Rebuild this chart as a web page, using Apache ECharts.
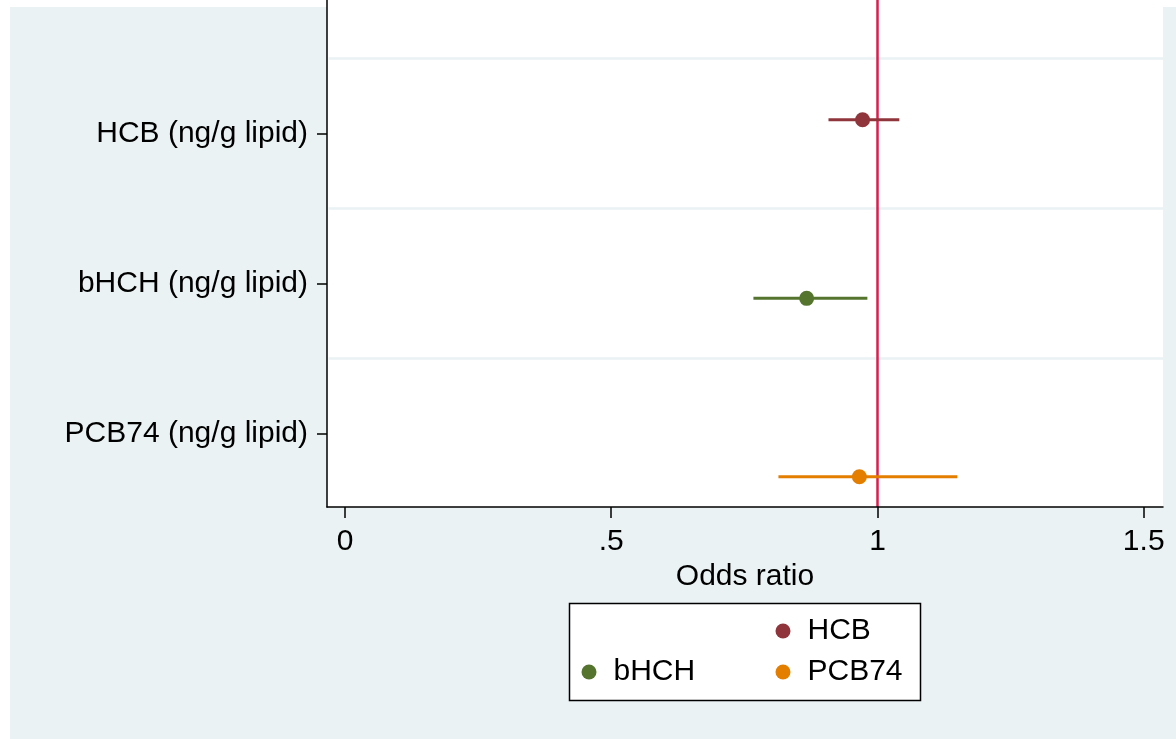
<!DOCTYPE html>
<html>
<head>
<meta charset="utf-8">
<script src="https://cdn.jsdelivr.net/npm/echarts@6/dist/echarts.min.js"></script>
<style>
  html, body { margin: 0; padding: 0; background: #fff; }
  #chart { width: 1176px; height: 739px; }
</style>
</head>
<body>
<div id="chart"></div>
<script>
// data
var names = ['HCB', 'bHCH', 'PCB74']
var rowLabels = ['HCB (ng/g lipid)', 'bHCH (ng/g lipid)', 'PCB74 (ng/g lipid)']
var oddsRatio = [0.972, 0.867, 0.966]
var ciLow = [0.908, 0.767, 0.814]
var ciHigh = [1.041, 0.981, 1.150]
// vertical position of each estimate (rows are 1, 2, 3 from the top)
var rowPos = [0.909, 2.1, 3.289]
var rowTicks = [1, 2, 3]
var rowDividers = [0.5, 1.5, 2.5]
var xTicks = [0, 0.5, 1, 1.5]
var xTickLabels = ['0', '.5', '1', '1.5']
var refLine = 1

var xMin = -0.0338
var xMax = 1.5362
var colors = ['#90353B', '#55752F', '#E37E00']
var font = 'Liberation Sans, Arial, sans-serif'
var bg = '#EAF2F3'
var fontSize = 30

var chart = echarts.init(document.getElementById('chart'))

var series = []
names.forEach(function(name, i) {
  // confidence interval bar
  series.push({
    name: name,
    type: 'custom',
    silent: true,
    z: 3,
    itemStyle: { color: colors[i] },
    data: [[ciLow[i], ciHigh[i], rowPos[i]]],
    renderItem: function(params, api) {
      var a = api.coord([api.value(0), api.value(2)])
      var b = api.coord([api.value(1), api.value(2)])
      return {
        type: 'line',
        shape: { x1: a[0], y1: a[1], x2: b[0], y2: b[1] },
        style: { stroke: colors[i], lineWidth: 3 }
      }
    }
  })
  // point estimate
  series.push({
    name: name,
    type: 'scatter',
    silent: true,
    z: 4,
    symbol: 'circle',
    symbolSize: 15,
    itemStyle: { color: colors[i], opacity: 1 },
    data: [[oddsRatio[i], rowPos[i]]]
  })
})

// row dividers (kept clear of the y axis line) and reference line
series.unshift({
  type: 'line',
  silent: true,
  z: 0,
  data: [],
  markLine: {
    z: 0,
    silent: true,
    symbol: ['none', 'none'],
    label: { show: false },
    lineStyle: { color: bg, width: 2.5, type: 'solid' },
    data: rowDividers.map(function(v) {
      return [{ coord: [xMin + 0.003, v] }, { coord: [xMax, v] }]
    })
  }
})
series.push({
  type: 'line',
  silent: true,
  z: 2,
  data: [],
  markLine: {
    z: 2,
    silent: true,
    symbol: ['none', 'none'],
    label: { show: false },
    lineStyle: { color: '#D81E4E', width: 2.5, type: 'solid' },
    data: [{ xAxis: refLine }]
  }
})

function legendAt(name, left, top) {
  return {
    data: [{ name: name, icon: 'circle', itemStyle: { color: colors[names.indexOf(name)] } }],
    left: left,
    top: top,
    padding: 0,
    itemWidth: 15,
    itemHeight: 15,
    selectedMode: false,
    textStyle: { fontFamily: font, fontSize: fontSize, color: '#000', padding: [0, 0, 0, 12] }
  }
}

chart.setOption({
  backgroundColor: bg,
  color: colors,
  animation: false,
  textStyle: { fontFamily: font },
  graphic: [
    { type: 'rect', shape: { x: 0, y: 0, width: 10, height: 739 }, style: { fill: '#fff' }, silent: true },
    { type: 'rect', shape: { x: 0, y: 0, width: 1176, height: 7 }, style: { fill: '#fff' }, silent: true },
    { type: 'rect', shape: { x: 569.5, y: 603.5, width: 351, height: 97 }, style: { fill: '#fff', stroke: '#000', lineWidth: 1.5 }, silent: true }
  ],
  grid: {
    left: 327,
    right: 13,
    top: 0,
    bottom: 232,
    show: true,
    backgroundColor: '#fff',
    borderWidth: 0
  },
  legend: [
    legendAt('HCB', 775.5, 616),
    legendAt('bHCH', 581.5, 657),
    legendAt('PCB74', 775.5, 657)
  ],
  xAxis: {
    type: 'value',
    z: 6,
    min: xMin,
    max: xMax,
    name: 'Odds ratio',
    nameLocation: 'middle',
    nameGap: 48,
    nameTextStyle: { fontFamily: font, fontSize: fontSize, color: '#000' },
    axisLine: { onZero: false, lineStyle: { color: '#000', width: 1.5 } },
    axisTick: { show: true, customValues: xTicks, length: 11, lineStyle: { color: '#000', width: 1.5 } },
    axisLabel: {
      customValues: xTicks,
      margin: 20,
      fontFamily: font,
      fontSize: fontSize,
      color: '#000',
      formatter: function(v) {
        var k = xTicks.indexOf(v)
        return k >= 0 ? xTickLabels[k] : ''
      }
    },
    splitLine: { show: false }
  },
  yAxis: {
    type: 'value',
    z: 6,
    inverse: true,
    min: 0.111,
    max: 3.491,
    axisLine: { show: true, onZero: false, lineStyle: { color: '#000', width: 1.5 } },
    axisTick: { show: true, customValues: rowTicks, length: 10, lineStyle: { color: '#000', width: 1.5 } },
    axisLabel: {
      customValues: rowTicks,
      margin: 19,
      fontFamily: font,
      fontSize: fontSize,
      color: '#000',
      formatter: function(v) {
        return rowLabels[Math.round(v) - 1] || ''
      }
    },
    splitLine: { show: false }
  },
  series: series
})
</script>
</body>
</html>
